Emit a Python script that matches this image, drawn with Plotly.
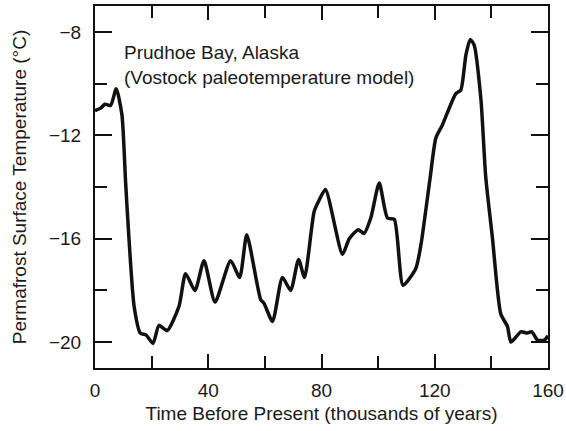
import plotly.graph_objects as go

time_kyr = [0, 2, 3.5, 5.5, 7.5, 9.5, 10.8, 12, 13.8, 16, 18, 20.5, 22.6, 25.5, 29.7, 32,
            35.3, 38.5, 42.4, 47.9, 51.1, 53.6, 58.5, 59.7, 62.7, 66.2, 69.1, 71.9, 74,
            77.4, 79.2, 81.4, 87.4, 89.8, 93, 95, 97.4, 100.4, 103.3, 105.7, 108.8, 113.3,
            115.1, 118.3, 120.4, 122.7, 127.4, 129.2, 131, 132.5, 133.9, 136.3, 138, 140.4,
            143.3, 145.7, 146.9, 150.4, 152.7, 154.3, 156.3, 158.7, 160]
temp_c = [-11.05, -10.95, -10.8, -10.85, -10.2, -11.2, -13.8, -16.0, -18.6, -19.65, -19.72,
          -20.05, -19.35, -19.55, -18.6, -17.35, -18.0, -16.85, -18.45, -16.85, -17.5, -15.85,
          -18.35, -18.5, -19.2, -17.5, -18.0, -16.8, -17.5, -14.95, -14.5, -14.1, -16.6, -16.0,
          -15.65, -15.8, -15.2, -13.85, -15.2, -15.25, -17.8, -17.15, -16.25, -13.7, -12.1,
          -11.6, -10.4, -10.25, -8.9, -8.3, -8.5, -10.6, -13.6, -16.0, -18.9, -19.4, -20.0,
          -19.6, -19.65, -19.6, -19.92, -19.92, -19.75]

x_ticks = [0, 40, 80, 120, 160]
y_ticks = [-20, -16, -12, -8]

FONT = "Liberation Sans, Arial, Helvetica, sans-serif"
INK = "#1a1a1a"

fig = go.Figure()
fig.add_trace(go.Scatter(x=time_kyr, y=temp_c, mode="lines",
                         line=dict(color="#111111", width=3.5, shape="spline", smoothing=0.6),
                         showlegend=False, hoverinfo="skip"))

fig.add_annotation(x=0, y=1, xref="paper", yref="paper", xanchor="left", yanchor="top",
                   xshift=27, yshift=-34, align="left", showarrow=False,
                   text="Prudhoe Bay, Alaska<br>(Vostock paleotemperature model)",
                   font=dict(size=19, color=INK, family=FONT))

axis_common = dict(showline=True, linecolor="#111111", linewidth=2, mirror="allticks",
                   ticks="inside", tickcolor="#111111", showgrid=False, zeroline=False,
                   automargin=False,
                   tickfont=dict(size=19, color=INK, family=FONT))

fig.update_xaxes(range=[0, 160], tickvals=x_ticks, ticklen=14, tickwidth=1.5,
                 ticklabelstandoff=4,
                 minor=dict(dtick=20, tick0=0, ticks="inside", ticklen=12, tickcolor="#111111",
                            tickwidth=1.5, showgrid=False),
                 title=dict(text="Time Before Present (thousands of years)", standoff=7,
                            font=dict(size=19, color=INK, family=FONT)),
                 **axis_common)
fig.update_yaxes(range=[-21, -7], tickvals=y_ticks, ticklen=17, tickwidth=1.5,
                 ticklabelstandoff=8,
                 minor=dict(dtick=2, tick0=0, ticks="inside", ticklen=12, tickcolor="#111111",
                            tickwidth=1.5, showgrid=False),
                 title=dict(text="Permafrost Surface Temperature (°C)", standoff=17,
                            font=dict(size=19, color=INK, family=FONT)),
                 **axis_common)

fig.update_layout(width=566, height=431, margin=dict(l=95, r=18, t=6, b=63),
                  paper_bgcolor="white", plot_bgcolor="white")

fig.write_html("out.html", config={"displayModeBar": False},
               post_script="document.body.style.margin='0';")
